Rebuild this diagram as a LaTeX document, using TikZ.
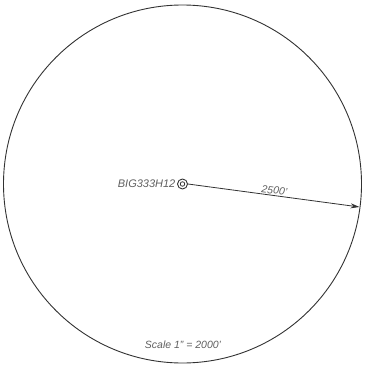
\documentclass[tikz,border=0pt]{standalone}
\usepackage{fontspec}
\setmainfont{Liberation Sans}
\usetikzlibrary{arrows.meta}
\definecolor{txt}{RGB}{95,95,95}
\definecolor{ln}{RGB}{50,50,50}
\tikzset{
  lbl/.style={text=txt, font=\fontsize{10.5}{12}\selectfont\itshape, inner sep=1pt},
  ring/.style={draw=ln, line width=0.9pt}
}
\begin{document}
\begin{tikzpicture}[x=1pt,y=-1pt]
\useasboundingbox (0,0) rectangle (364,366);
\coordinate (c) at (182.5,184);
\draw[ring] (c) circle[radius=179];
\node[circle, draw=ln, line width=0.9pt, minimum size=10pt, inner sep=0] (well) at (c) {};
\node[circle, draw=ln, line width=0.8pt, minimum size=4.5pt, inner sep=0] at (c) {};
\coordinate (e) at (359.5,207);
\draw[ln, line width=0.8pt, -{Stealth[length=9pt,width=5pt]}] (well.east) -- node[lbl, sloped, above, pos=0.5, yshift=0pt] {2500'} (e);
\node[lbl, anchor=east, font=\fontsize{11}{13}\selectfont\itshape] (name) at ([xshift=-0.5pt]well.west) {BIG333H12};
\node[lbl] (scale) at (183,345) {Scale 1" = 2000'};
\end{tikzpicture}
\end{document}
